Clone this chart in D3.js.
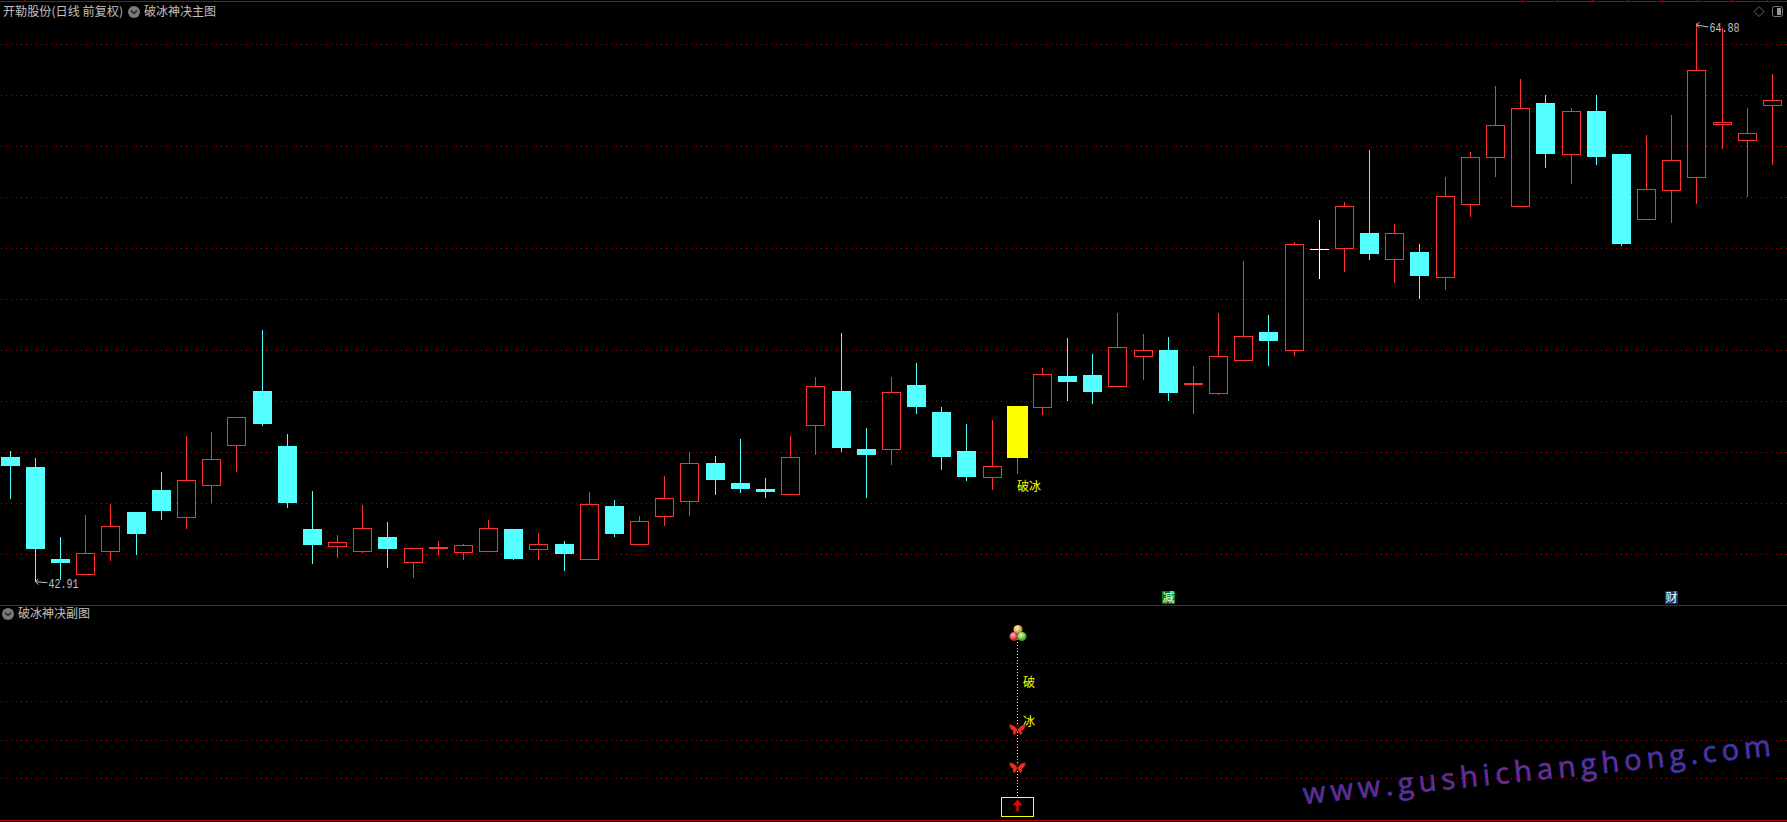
<!DOCTYPE html>
<html lang="zh">
<head>
<meta charset="utf-8">
<title>破冰神决</title>
<script src="https://cdn.jsdelivr.net/npm/d3@7/dist/d3.min.js"></script>
<style>
html,body{margin:0;padding:0;background:#000;overflow:hidden}
svg{display:block}
text{font-family:"Noto Sans CJK SC","DejaVu Sans",sans-serif;font-size:12px}
</style>
</head>
<body>
<svg id="c" width="1787" height="822"></svg>
<script>
// ---------- data ----------
const highs=[48.05,47.78,44.67,45.53,45.97,45.65,47.23,48.64,48.80,49.38,52.81,48.72,46.48,44.75,45.93,45.26,44.22,44.51,44.39,45.34,44.98,44.83,44.51,46.44,46.12,45.50,47.07,48.00,47.85,48.52,46.99,48.64,50.96,52.69,48.96,50.96,51.51,49.78,49.11,49.27,49.82,51.31,52.49,51.86,53.48,52.65,52.53,51.39,53.47,55.52,53.40,56.27,57.13,57.84,59.89,56.98,56.19,58.82,59.81,62.40,62.68,62.05,61.54,62.05,59.73,60.48,61.26,64.88,64.68,61.54,62.87];
const opens=[47.81,47.42,43.80,43.19,44.09,45.65,46.52,45.43,46.69,48.26,50.41,48.25,44.98,44.29,44.09,44.67,43.66,44.21,44.05,44.09,44.98,44.17,44.39,43.78,45.89,44.37,45.47,46.06,47.58,46.79,46.56,46.33,49.05,50.41,48.13,48.10,50.65,49.58,48.05,47.00,47.78,49.79,51.00,51.04,50.58,51.76,52.02,50.66,50.30,51.60,52.73,52.01,55.98,56.00,56.62,55.57,55.88,54.90,57.77,59.62,57.66,61.73,59.70,61.42,59.73,57.15,58.29,58.80,60.88,60.25,61.63];
const closes=[47.46,44.20,43.65,44.03,45.09,44.79,45.69,46.90,47.72,49.38,49.11,46.01,44.35,44.46,45.01,44.20,44.22,44.26,44.34,45.01,43.80,44.38,44.00,45.95,44.79,45.29,46.19,47.57,46.91,46.56,46.44,47.80,50.59,48.17,47.89,50.36,49.78,47.81,47.03,47.45,49.82,51.07,50.76,50.37,52.13,52.01,50.33,50.71,51.77,52.56,52.38,56.18,55.98,57.67,55.80,56.61,54.93,58.07,59.60,60.86,61.53,59.73,61.41,59.61,56.19,58.34,59.48,63.02,60.97,60.54,61.84];
const lows=[46.16,42.91,42.98,43.19,43.73,43.96,45.34,44.98,46.01,47.23,49.03,45.81,43.61,43.84,44.04,43.45,43.06,43.96,43.77,44.09,43.77,43.77,43.33,43.78,44.67,44.37,45.10,45.50,46.32,46.40,46.20,46.33,47.89,48.01,46.20,47.50,49.51,47.30,46.87,46.52,47.15,49.47,50.02,49.90,50.58,50.84,50.02,49.51,50.25,51.60,51.39,51.79,54.81,55.09,55.56,54.66,54.03,54.38,57.25,58.82,57.66,59.18,58.55,59.30,56.11,57.15,57.02,57.76,59.93,58.04,59.30];
const breakIceDay=40;
const gridPrices=[64.04,62.03,60.03,58.02,56.02,54.01,52.01,50.00,47.99,45.99,43.98];
const subGrid=[4,3,2,1];
const butterflyLevels=[2.29,1.30];
const markerTexts=[{t:"破",v:3.50},{t:"冰",v:2.48}];
const dotLine=[0.52,4.95];
const extremes=[{day:1,price:42.91,label:"42.91"},{day:67,price:64.88,label:"64.88"}];
const topTicks=[24,1522,1557,1592,1627,1662,1697,1732,1767];
const tags=[{t:"减",day:46,bg:"#007a0c"},{t:"财",day:66,bg:"#0b3d74"}];

// ---------- scales ----------
const days=d3.range(highs.length);
const x=d3.scalePoint().domain(days).range([10.3,1772.4]);
const y=d3.scaleLinear().domain([64.88,42.91]).range([23,581.7]);
const subY=d3.scaleLinear().domain([0,4]).range([816.8,663.4]);
const svg=d3.select("#c");

const defs=svg.append("defs");
function ball(id,hi,mid,lo){
  const g=defs.append("radialGradient").attr("id",id).attr("cx","40%").attr("cy","35%").attr("r","70%");
  g.append("stop").attr("offset","0%").attr("stop-color",hi);
  g.append("stop").attr("offset","55%").attr("stop-color",mid);
  g.append("stop").attr("offset","100%").attr("stop-color",lo);
}
ball("bY","#fff3c0","#d8b050","#806020");
ball("bR","#ffc0b0","#d84848","#801818");
ball("bG","#e0ffc0","#70c840","#287018");
const wm=defs.append("linearGradient").attr("id","wm").attr("x1","0").attr("x2","1").attr("y1","0").attr("y2","0");
wm.append("stop").attr("offset","0%").attr("stop-color","#8c1c80");
wm.append("stop").attr("offset","55%").attr("stop-color","#92208c");
wm.append("stop").attr("offset","100%").attr("stop-color","#5a2aa8");

// ---------- frame and grid ----------
const gridColor="#b00000";
const crisp=s=>s.attr("shape-rendering","crispEdges");
svg.append("g").selectAll("line").data(gridPrices).join("line")
  .attr("x1",1).attr("x2",1787)
  .attr("y1",d=>Math.floor(y(d))+.5).attr("y2",d=>Math.floor(y(d))+.5)
  .attr("stroke",gridColor).attr("stroke-dasharray","1 4").call(crisp);
svg.append("g").selectAll("line").data(subGrid).join("line")
  .attr("x1",1).attr("x2",1787)
  .attr("y1",d=>Math.floor(subY(d))+.5).attr("y2",d=>Math.floor(subY(d))+.5)
  .attr("stroke",gridColor).attr("stroke-dasharray","1 4").call(crisp);
svg.append("g").selectAll("line").data([1,605,820]).join("line")
  .attr("x1",0).attr("x2",1787).attr("y1",d=>d+.5).attr("y2",d=>d+.5)
  .attr("stroke","#b00000").call(crisp);
svg.append("g").selectAll("line").data(topTicks).join("line")
  .attr("x1",d=>d+.5).attr("x2",d=>d+.5).attr("y1",0).attr("y2",2)
  .attr("stroke","#b00000").call(crisp);

// ---------- candles ----------
const RED="#ff3232",CYAN="#54ffff",WHITE="#ffffff",YEL="#ffff00";
const colorOf=i=>closes[i]>opens[i]?RED:closes[i]<opens[i]?CYAN:WHITE;
const cx=i=>Math.floor(x(i))+.5;
const candles=svg.append("g");
candles.selectAll("line").data(days).join("line")
  .attr("x1",cx).attr("x2",cx)
  .attr("y1",i=>y(highs[i])).attr("y2",i=>y(lows[i]))
  .attr("stroke",colorOf).attr("stroke-width",1).call(crisp);
candles.selectAll("rect").data(days).join("rect")
  .each(function(i){
    const t=y(Math.max(opens[i],closes[i])),b=y(Math.min(opens[i],closes[i]));
    const s=d3.select(this),c=colorOf(i),h=b-t;
    const up=closes[i]>opens[i];
    if(i===breakIceDay){
      s.attr("x",cx(i)-10.5).attr("width",21).attr("y",t).attr("height",h).attr("fill",YEL);
    }else if(h<2){
      s.attr("x",cx(i)-9.5).attr("width",19).attr("y",Math.round(t)).attr("height",c===WHITE?1:2).attr("fill",c);
    }else if(up){
      s.attr("x",cx(i)-9).attr("width",18).attr("y",Math.round(t)+.5).attr("height",Math.round(h))
       .attr("fill","#000").attr("stroke",c).attr("stroke-width",1.2);
    }else{
      s.attr("x",cx(i)-9.5).attr("width",19).attr("y",t).attr("height",h).attr("fill",c);
    }
  }).call(crisp);

// ---------- titles and icons ----------
const grey="#c0c0c0";
function title(str,px,py,len){
  svg.append("text").attr("x",px).attr("y",py).attr("fill",grey)
    .attr("textLength",len).attr("lengthAdjust","spacingAndGlyphs").text(str);
}
function chevron(px,py){
  svg.append("circle").attr("cx",px).attr("cy",py).attr("r",6).attr("fill","#7a7a7a");
  svg.append("path").attr("d",`M${px-3},${py-1.5}L${px},${py+1.5}L${px+3},${py-1.5}`)
    .attr("fill","none").attr("stroke","#222").attr("stroke-width",1.3);
}
title("开勒股份(日线 前复权)",3,16,120);
chevron(134,12);
title("破冰神决主图",144,16,72);
chevron(8,614);
title("破冰神决副图",18,618,72);
svg.append("path").attr("d","M1759,6.5L1764,11.5L1759,16.5L1754,11.5Z").attr("fill","none").attr("stroke","#666");
svg.append("rect").attr("x",1772.5).attr("y",6.5).attr("width",10).attr("height",10).attr("rx",2)
  .attr("fill","none").attr("stroke","#777");
svg.append("rect").attr("x",1777).attr("y",8).attr("width",4).attr("height",7).attr("fill","#999");

// ---------- extremes ----------
const ext=svg.append("g").selectAll("g").data(extremes).join("g");
ext.append("path")
  .attr("d",d=>{const a=cx(d.day),b=y(d.price)+(d.day===1?1:3);return `M${a+12},${b+(d.day===1?0:1)}L${a},${b-1}M${a+3},${b-4}L${a},${b-1}L${a+3},${b+2}`;})
  .attr("fill","none").attr("stroke",grey);
ext.append("text").attr("x",d=>cx(d.day)+13).attr("y",d=>y(d.price)+(d.day===1?6:9))
  .attr("fill",grey).attr("textLength",30).attr("lengthAdjust","spacingAndGlyphs")
  .style("font-family","'Liberation Mono',monospace").text(d=>d.label);

// ---------- break-ice marks ----------
svg.append("text").attr("x",1017).attr("y",490.5).attr("fill",YEL).attr("textLength",24).text("破冰");
const tag=svg.append("g").selectAll("g").data(tags).join("g");
tag.append("rect").attr("x",d=>cx(d.day)-6.5).attr("y",591).attr("width",13).attr("height",13).attr("fill",d=>d.bg);
tag.append("text").attr("x",d=>cx(d.day)).attr("y",602).attr("text-anchor","middle").attr("fill","#fff").text(d=>d.t);

// ---------- sub panel ----------
const mx=cx(breakIceDay);
svg.append("line").attr("x1",mx).attr("x2",mx).attr("y1",subY(dotLine[1])).attr("y2",subY(dotLine[0]))
  .attr("stroke",YEL).attr("stroke-dasharray","1 2").call(crisp);
svg.append("circle").attr("cx",mx+.5).attr("cy",629.5).attr("r",4.6).attr("fill","url(#bY)");
svg.append("circle").attr("cx",mx-3.5).attr("cy",636.5).attr("r",4.6).attr("fill","url(#bR)");
svg.append("circle").attr("cx",mx+4.5).attr("cy",636.5).attr("r",4.6).attr("fill","url(#bG)");
svg.append("g").selectAll("text").data(markerTexts).join("text")
  .attr("x",mx+5.5).attr("y",d=>subY(d.v)+4.5).attr("fill",YEL).text(d=>d.t);
const wing="M0,1C-2,-2 -5,-5 -8,-4C-8,-1 -6,1 -4,2C-5,3 -5,5 -3,6C-2,5 -1,3 0,1C1,3 2,5 3,6C5,5 5,3 4,2C6,1 8,-1 8,-4C5,-5 2,-2 0,1Z";
const bf=svg.append("g").selectAll("g").data(butterflyLevels).join("g")
  .attr("transform",d=>`translate(${mx},${subY(d)})`);
bf.append("path").attr("d",wing).attr("fill","#e83020").attr("stroke","#8a1a10").attr("stroke-width",.6);
bf.append("path").attr("d","M0,3L0,-2M0,-2L-2,-6M0,-2L2,-6").attr("fill","none").attr("stroke","#501008");
svg.append("rect").attr("x",1001.5).attr("y",Math.ceil(subY(dotLine[0]))+.5).attr("width",32).attr("height",19)
  .attr("fill","#000").attr("stroke",YEL).attr("stroke-width",1.2).call(crisp);
svg.append("path").attr("d",`M${mx},799.5L${mx+5},805.5L${mx+1.2},805.5L${mx+1.2},811.5L${mx-1.2},811.5L${mx-1.2},805.5L${mx-5},805.5Z`).attr("fill","#f00000");

// ---------- watermark ----------
svg.append("text").attr("transform","translate(1304,804) rotate(-5.9)")
  .attr("fill","url(#wm)").attr("stroke","#2c3aa0").attr("stroke-width",.8)
  .style("font-family","'Open Sans',sans-serif").style("font-size","29px").style("font-weight","500")
  .attr("textLength",470).attr("lengthAdjust","spacing").text("www.gushichanghong.com");
</script>
</body>
</html>
